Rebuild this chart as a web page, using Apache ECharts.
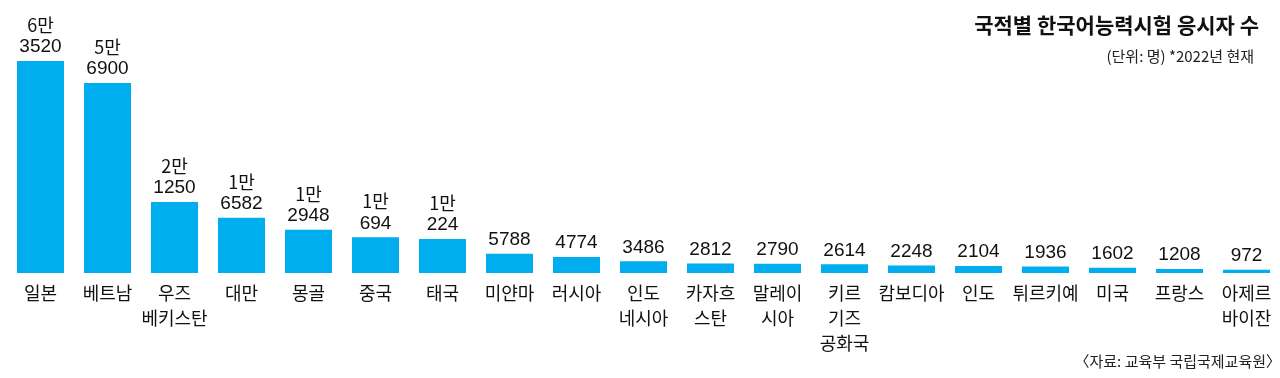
<!DOCTYPE html>
<html>
<head>
<meta charset="utf-8">
<script src="https://cdn.jsdelivr.net/npm/echarts@6/dist/echarts.min.js"></script>
<style>
  html, body { margin: 0; padding: 0; background: #fff; }
  #main { width: 1280px; height: 378px; }
</style>
</head>
<body>
<div id="main"></div>
<script>
var countries = ['일본', '베트남', '우즈\n베키스탄', '대만', '몽골', '중국', '태국', '미얀마', '러시아',
  '인도\n네시아', '카자흐\n스탄', '말레이\n시아', '키르\n기즈\n공화국', '캄보디아', '인도', '튀르키예',
  '미국', '프랑스', '아제르\n바이잔'];
var takers = [63520, 56900, 21250, 16582, 12948, 10694, 10224, 5788, 4774,
  3486, 2812, 2790, 2614, 2248, 2104, 1936, 1602, 1208, 972];

var numFont = '"Liberation Sans", Arial, sans-serif';
var krFont = '"Noto Sans CJK KR", sans-serif';

function koNum(v) {
  if (v >= 10000) return '{k|' + Math.floor(v / 10000) + '만}\n' + (v % 10000);
  return String(v);
}

var myChart = echarts.init(document.getElementById('main'));
var option = {
  animation: false,
  title: [{
    text: '국적별 한국어능력시험 응시자 수',
    right: 16,
    top: 10,
    textStyle: { color: '#111', fontSize: 21, fontWeight: 'bold', fontFamily: krFont }
  }, {
    text: '(단위: 명) *2022년 현재',
    right: 21,
    top: 44,
    textStyle: { color: '#222', fontSize: 15, fontWeight: 'normal', fontFamily: krFont }
  }, {
    text: '〈자료: 교육부 국립국제교육원〉',
    right: -6,
    top: 349,
    textStyle: { color: '#222', fontSize: 15, fontWeight: 'normal', fontFamily: krFont }
  }],
  grid: { left: 7, width: 1275, top: 61, bottom: 105 },
  xAxis: {
    type: 'category',
    data: countries,
    axisLine: { show: false },
    axisTick: { show: false },
    axisLabel: {
      interval: 0,
      margin: 8,
      color: '#111',
      fontSize: 18,
      lineHeight: 25,
      verticalAlign: 'top',
      fontFamily: krFont
    }
  },
  yAxis: {
    type: 'value',
    min: 0,
    max: 'dataMax',
    show: false,
    splitLine: { show: false }
  },
  series: [{
    type: 'bar',
    data: takers,
    barWidth: 47,
    itemStyle: { color: '#00aeef' },
    label: {
      show: true,
      position: 'top',
      distance: 3,
      color: '#111',
      fontSize: 19,
      lineHeight: 22,
      fontFamily: numFont,
      rich: {
        k: { fontSize: 18, lineHeight: 22, fontFamily: krFont, color: '#111' }
      },
      formatter: function (p) { return koNum(p.value); }
    }
  }]
};
myChart.setOption(option);
</script>
</body>
</html>
